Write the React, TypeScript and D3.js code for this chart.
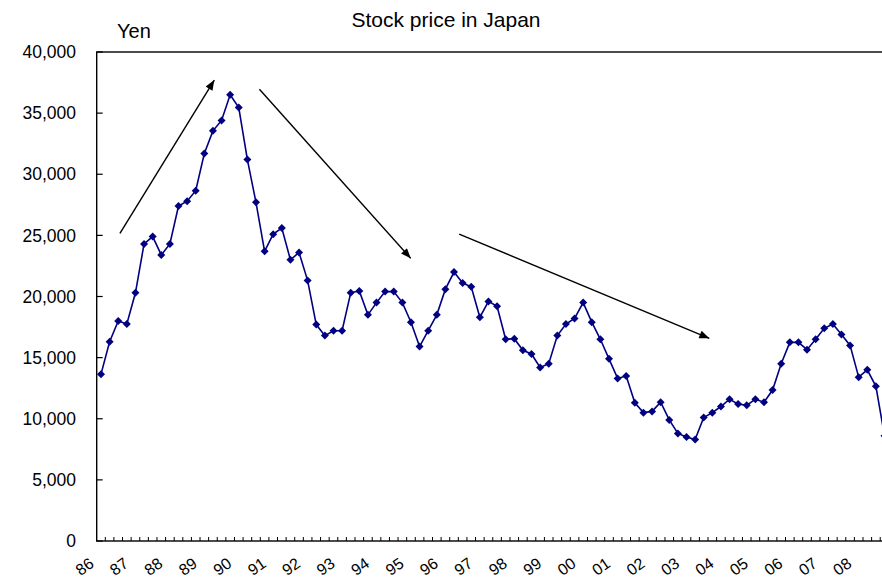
import React from 'react';
import * as d3 from 'd3';

const yearLabels = ["86","87","88","89","90","91","92","93","94","95","96","97","98","99","00","01","02","03","04","05","06","07","08"];

// Quarterly stock price (Yen), 1986Q1 .. 2008Q4
const prices = [
  13650, 16300, 18000, 17750, 20300, 24300, 24900, 23400, 24300, 27400,
  27800, 28650, 31700, 33550, 34400, 36500, 35450, 31200, 27700, 23700,
  25100, 25600, 23000, 23600, 21300, 17700, 16800, 17200, 17200, 20300,
  20450, 18500, 19500, 20400, 20400, 19500, 17900, 15900, 17200, 18500,
  20600, 22000, 21100, 20800, 18300, 19600, 19200, 16500, 16550, 15600,
  15300, 14200, 14500, 16800, 17750, 18200, 19500, 17900, 16500, 14900,
  13300, 13500, 11300, 10500, 10600, 11350, 9900, 8800, 8500, 8300,
  10100, 10500, 11000, 11600, 11200, 11100, 11600, 11350, 12350, 14500,
  16250, 16250, 15650, 16500, 17400, 17750, 16900, 16000, 13400, 14000,
  12650, 8600
];

const yTicks = [0, 5000, 10000, 15000, 20000, 25000, 30000, 35000, 40000];

// Trend arrows in data coordinates (quarter index, yen)
const arrowStartIdx = [2.2, 18.4, 41.6];
const arrowStartVal = [25170, 36950, 25100];
const arrowEndIdx = [13.16, 35.97, 70.65];
const arrowEndVal = [37700, 23120, 16580];

const FONT = "'Liberation Sans', Arial, sans-serif";

export default function App() {
  const left = 96.7;
  const bw = 8.61;
  const top = 52;
  const bottom = 541;

  const x = d3
    .scaleBand<number>()
    .domain(d3.range(prices.length))
    .range([left, left + prices.length * bw])
    .paddingInner(0)
    .paddingOuter(0);
  const cx = (i: number) => (x(i) as number) + x.bandwidth() / 2;
  const xf = d3.scaleLinear().domain([0, prices.length - 1]).range([cx(0), cx(prices.length - 1)]);
  const y = d3.scaleLinear().domain([0, 40000]).range([bottom, top]);

  const line = d3
    .line<number>()
    .x((_, i) => cx(i))
    .y((d) => y(d));

  const plotRight = left + prices.length * bw;
  const fmt = d3.format(',');

  return (
    <svg
      width={882}
      height={578}
      style={{ position: 'absolute', left: 0, top: 0, background: '#fff' }}
      fontFamily={FONT}
    >
      <defs>
        <marker id="ah" viewBox="0 0 10 8" refX="10" refY="4" markerWidth="11" markerHeight="8" markerUnits="userSpaceOnUse" orient="auto">
          <path d="M0,0 L10,4 L0,8 Z" fill="#000" />
        </marker>
      </defs>
      <rect x={0} y={0} width={882} height={578} fill="#fff" />

      <text x={446} y={27} textAnchor="middle" fontSize={21} fill="#000">Stock price in Japan</text>
      <text x={117} y={38} fontSize={20} fill="#000">Yen</text>

      {/* frame */}
      <rect x={left} y={top} width={plotRight - left} height={bottom - top} fill="none" stroke="#000" strokeWidth={1.4} />

      {/* y ticks */}
      {yTicks.map((t) => (
        <g key={t}>
          <line x1={left} x2={left + 6} y1={y(t)} y2={y(t)} stroke="#000" strokeWidth={1.2} />
          <text x={76} y={y(t)} dy="0.35em" textAnchor="end" fontSize={17.5} fill="#000">{fmt(t)}</text>
        </g>
      ))}

      {/* x ticks */}
      {d3.range(1, prices.length + 1).map((k) => (
        <line key={k} x1={left + k * bw} x2={left + k * bw} y1={bottom} y2={bottom - 4} stroke="#000" strokeWidth={1} />
      ))}
      {yearLabels.map((lab, j) => {
        const px = cx(j * 4) - 6;
        const py = 566;
        return (
          <text key={lab} x={px} y={py} textAnchor="end" fontSize={16} fill="#000" transform={`rotate(-35 ${px} ${py})`}>
            {lab}
          </text>
        );
      })}

      {/* series */}
      <path d={line(prices) || ''} fill="none" stroke="#000080" strokeWidth={1.6} />
      {prices.map((v, i) => (
        <path key={i} transform={`translate(${cx(i)},${y(v)})`} d="M0,-4 L4,0 L0,4 L-4,0 Z" fill="#000080" />
      ))}

      {/* arrows */}
      {arrowStartIdx.map((s, k) => (
        <line
          key={k}
          x1={xf(s)}
          y1={y(arrowStartVal[k])}
          x2={xf(arrowEndIdx[k])}
          y2={y(arrowEndVal[k])}
          stroke="#000"
          strokeWidth={1.4}
          markerEnd="url(#ah)"
        />
      ))}
    </svg>
  );
}
